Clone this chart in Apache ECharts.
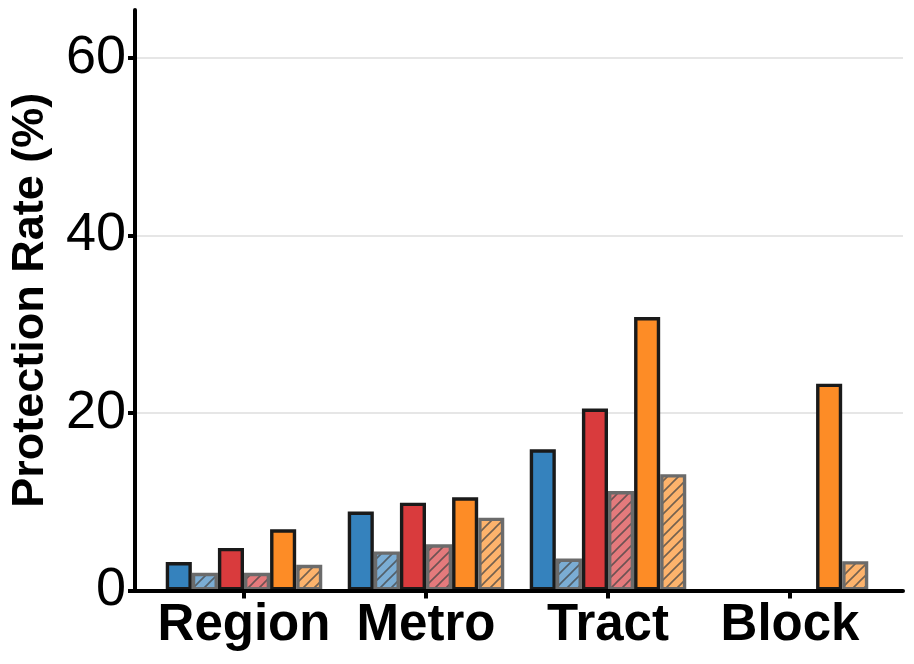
<!DOCTYPE html>
<html>
<head>
<meta charset="utf-8">
<script src="https://cdn.jsdelivr.net/npm/echarts@6/dist/echarts.min.js"></script>
<style>html,body{margin:0;padding:0;background:#fff}#c{width:914px;height:664px}</style>
</head>
<body>
<div id="c"></div>
<script>
const categories = ['Region', 'Metro', 'Tract', 'Block'];
const blueSolid   = [3.2, 8.9, 15.9, 0];
const blueHatch   = [2.0, 4.4, 3.6, 0];
const redSolid    = [4.8, 9.9, 20.5, 0];
const redHatch    = [2.0, 5.2, 11.2, 0];
const orangeSolid = [6.9, 10.5, 30.8, 23.3];
const orangeHatch = [2.9, 8.2, 13.1, 3.3];
const yTicks = [0, 20, 40, 60];

function hatch(fill) {
  const s = 11;
  const c = document.createElement('canvas');
  c.width = s; c.height = s;
  const g = c.getContext('2d');
  g.fillStyle = fill;
  g.fillRect(0, 0, s, s);
  g.strokeStyle = 'rgba(70,70,70,0.75)';
  g.lineWidth = 1.6;
  g.beginPath();
  g.moveTo(-2, s + 2); g.lineTo(s + 2, -2);
  g.moveTo(-2, 2); g.lineTo(2, -2);
  g.moveTo(s - 2, s + 2); g.lineTo(s + 2, s - 2);
  g.stroke();
  return { image: c, repeat: 'repeat' };
}

const defs = [
  { name: 'blue', data: blueSolid, color: '#3582bd', hatched: false },
  { name: 'blue hatched', data: blueHatch, color: '#7badd4', hatched: true },
  { name: 'red', data: redSolid, color: '#d93b3d', hatched: false },
  { name: 'red hatched', data: redHatch, color: '#e47a7c', hatched: true },
  { name: 'orange', data: orangeSolid, color: '#fd8c26', hatched: false },
  { name: 'orange hatched', data: orangeHatch, color: '#fdb36c', hatched: true }
];

const series = defs.map(d => ({
  type: 'bar',
  name: d.name,
  xAxisIndex: 0,
  yAxisIndex: 0,
  barGap: '0%',
  barCategoryGap: '14%',
  data: d.data.map(v => v === 0 ? { value: v, itemStyle: { borderWidth: 0 } } : v),
  itemStyle: {
    color: d.hatched ? hatch(d.color) : d.color,
    borderColor: d.hatched ? '#6b6b6b' : '#1a1a1a',
    borderWidth: 3.4
  }
}));

const FONT = 'Liberation Sans, Arial, sans-serif';
const Y_MAX = 65.4;

const chart = echarts.init(document.getElementById('c'), null, { renderer: 'canvas' });
chart.setOption({
  animation: false,
  backgroundColor: '#fff',
  grid: [
    { left: 153, right: 33, top: 10, bottom: 73.5, containLabel: false },
    { left: 132, right: 11, top: 10, bottom: 73.5, containLabel: false }
  ],
  xAxis: [
    {
      gridIndex: 0,
      type: 'category',
      data: categories,
      z: 5,
      axisLine: { show: true, onZero: false, lineStyle: { color: '#000', width: 4 } },
      axisTick: { show: true, interval: 0, alignWithLabel: true, length: 8, lineStyle: { color: '#000', width: 4 } },
      axisLabel: {
        interval: 0,
        hideOverlap: false,
        fontFamily: FONT,
        fontWeight: 'bold',
        fontSize: 51,
        color: '#000',
        margin: 10
      },
      splitLine: { show: false }
    },
    {
      gridIndex: 1,
      type: 'value',
      min: 0,
      max: 1,
      z: 5,
      axisLine: { show: true, onZero: false, lineStyle: { color: '#000', width: 4 } },
      axisTick: { show: false },
      axisLabel: { show: false },
      splitLine: { show: false }
    }
  ],
  yAxis: [
    {
      gridIndex: 0,
      type: 'value',
      min: 0,
      max: Y_MAX,
      show: false,
      splitLine: { show: false }
    },
    {
      gridIndex: 1,
      type: 'value',
      min: 0,
      max: Y_MAX,
      interval: 20,
      name: 'Protection Rate (%)',
      nameLocation: 'middle',
      nameGap: 82,
      nameTextStyle: {
        fontFamily: FONT,
        fontWeight: 'bold',
        fontSize: 45,
        color: '#000'
      },
      axisLine: { show: true, onZero: false, lineStyle: { color: '#000', width: 4 } },
      axisTick: { show: true, length: 7, lineStyle: { color: '#000', width: 4 } },
      axisLabel: {
        showMaxLabel: false,
        fontFamily: FONT,
        fontSize: 54,
        color: '#000',
        margin: 9
      },
      splitLine: { show: true, showMinLine: false, showMaxLine: false, lineStyle: { color: '#e6e6e6', width: 2 } }
    }
  ],
  series: series
});
</script>
</body>
</html>
